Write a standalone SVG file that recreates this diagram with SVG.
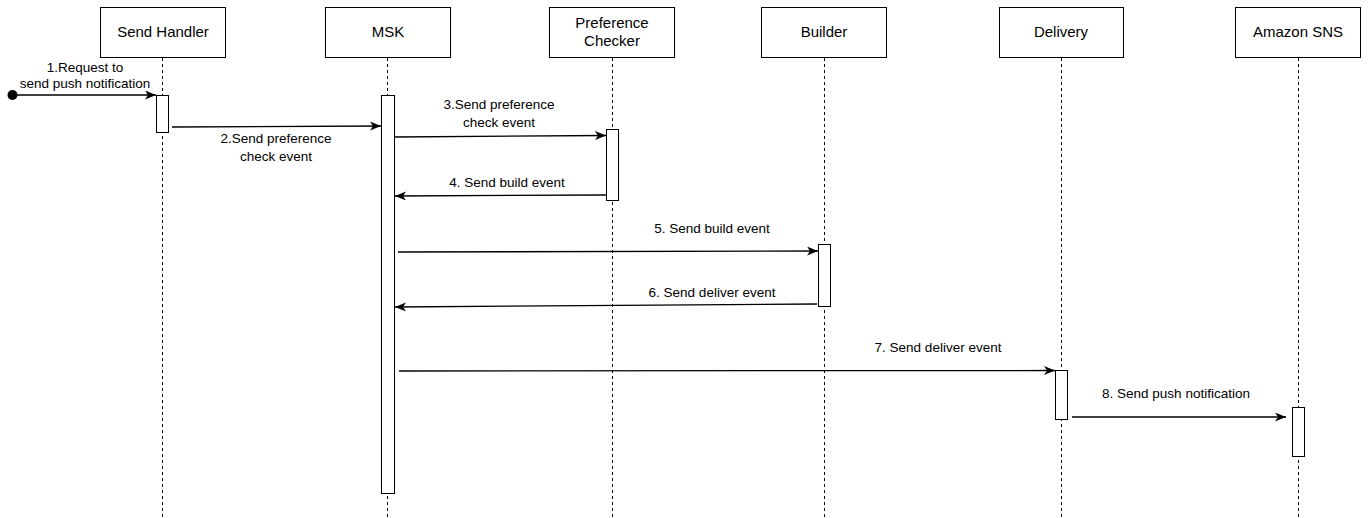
<svg xmlns="http://www.w3.org/2000/svg" width="1371" height="518" viewBox="0 0 1371 518">
<style>
.box{fill:#fff;stroke:#000;stroke-width:1}
.t{font-family:"Liberation Sans",Arial,sans-serif;font-size:15px;fill:#000;text-anchor:middle}
.l{font-family:"Liberation Sans",Arial,sans-serif;font-size:13.5px;fill:#000;text-anchor:middle}
.life{stroke:#000;stroke-width:1;stroke-dasharray:3,3;fill:none}
.act{fill:#fff;stroke:#000;stroke-width:1}
.msg{stroke:#000;stroke-width:1.3;fill:none;marker-end:url(#ah)}
</style>
<defs>
<marker id="ah" viewBox="0 0 11 9" refX="11" refY="4.5" markerWidth="11" markerHeight="9" markerUnits="userSpaceOnUse" orient="auto">
<path d="M0,0 L11,4.5 L0,9 L3,4.5 z" fill="#000"/>
</marker>
</defs>
<g id="sendHandler">
<rect class="box" x="100.5" y="7.5" width="125" height="50"/>
<text class="t" x="163" y="37">Send Handler</text>
<line class="life" x1="162.5" y1="58" x2="162.5" y2="518"/>
<rect class="act" x="156.5" y="95.5" width="12" height="37"/>
</g>
<g id="msk">
<rect class="box" x="325.5" y="7.5" width="125" height="50"/>
<text class="t" x="388" y="37">MSK</text>
<line class="life" x1="387.5" y1="58" x2="387.5" y2="518"/>
<rect class="act" x="381.5" y="95.5" width="13" height="398"/>
</g>
<g id="preferenceChecker">
<rect class="box" x="549.5" y="7.5" width="125" height="50"/>
<text class="t" x="612" y="28">Preference</text>
<text class="t" x="612" y="46">Checker</text>
<line class="life" x1="612.5" y1="58" x2="612.5" y2="518"/>
<rect class="act" x="606.5" y="129.5" width="12" height="71"/>
</g>
<g id="builder">
<rect class="box" x="761.5" y="7.5" width="125" height="50"/>
<text class="t" x="824" y="37">Builder</text>
<line class="life" x1="824.5" y1="58" x2="824.5" y2="518"/>
<rect class="act" x="818.5" y="244.5" width="12" height="62"/>
</g>
<g id="delivery">
<rect class="box" x="999.5" y="7.5" width="124" height="50"/>
<text class="t" x="1061" y="37">Delivery</text>
<line class="life" x1="1061.5" y1="58" x2="1061.5" y2="518"/>
<rect class="act" x="1055.5" y="370.5" width="12" height="49"/>
</g>
<g id="amazonSNS">
<rect class="box" x="1235.5" y="7.5" width="125" height="50"/>
<text class="t" x="1298" y="37">Amazon SNS</text>
<line class="life" x1="1298.5" y1="58" x2="1298.5" y2="518"/>
<rect class="act" x="1292.5" y="407.5" width="12" height="49"/>
</g>
<g id="connectors">
<circle cx="12.5" cy="95" r="5" fill="#000"/>
<line class="msg" x1="12.5" y1="95" x2="156" y2="95"/>
<text class="l" x="85" y="72">1.Request to</text>
<text class="l" x="85" y="88">send push notification</text>
<line class="msg" x1="172" y1="127" x2="381" y2="126"/>
<text class="l" x="276" y="143">2.Send preference</text>
<text class="l" x="276" y="161">check event</text>
<line class="msg" x1="395" y1="137" x2="606" y2="135.5"/>
<text class="l" x="499" y="109">3.Send preference</text>
<text class="l" x="499" y="127">check event</text>
<line class="msg" x1="606" y1="195" x2="395" y2="196"/>
<text class="l" x="507" y="187">4. Send build event</text>
<line class="msg" x1="398" y1="252" x2="818" y2="251"/>
<text class="l" x="712" y="233">5. Send build event</text>
<line class="msg" x1="817" y1="304" x2="395" y2="307"/>
<text class="l" x="712" y="297">6. Send deliver event</text>
<line class="msg" x1="399" y1="371" x2="1055" y2="370.5"/>
<text class="l" x="938" y="352">7. Send deliver event</text>
<line class="msg" x1="1072" y1="417" x2="1286" y2="417"/>
<text class="l" x="1176" y="398">8. Send push notification</text>
</g>
</svg>
